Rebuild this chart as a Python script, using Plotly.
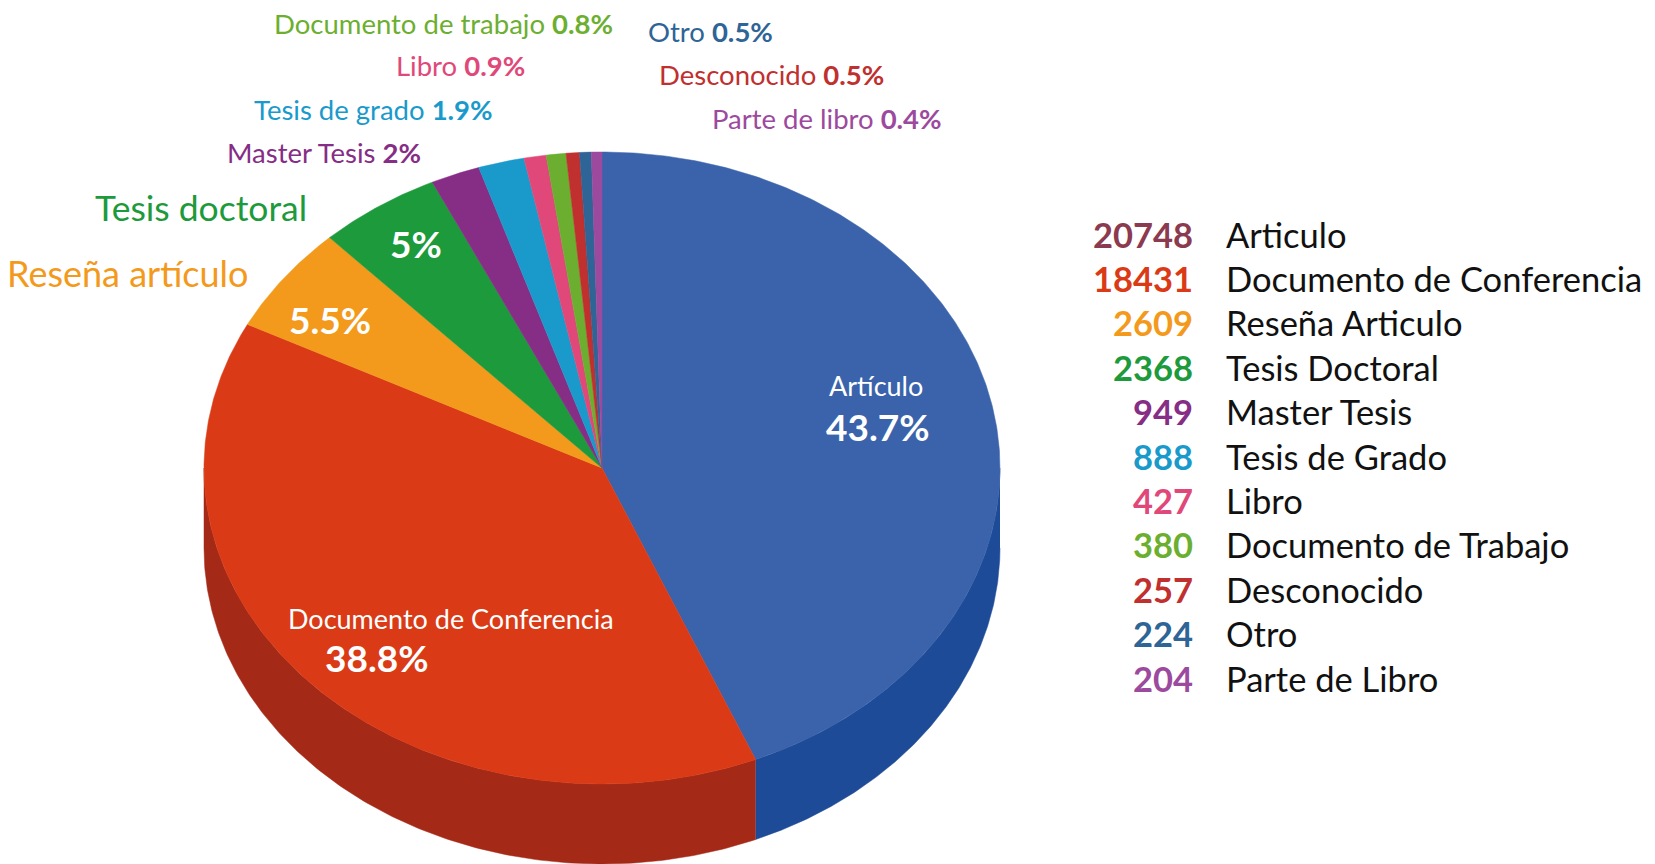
import numpy as np
import plotly.graph_objects as go

# ---------------- data ----------------
legend_names = ["Articulo", "Documento de Conferencia", "Reseña Articulo", "Tesis Doctoral",
                "Master Tesis", "Tesis de Grado", "Libro", "Documento de Trabajo",
                "Desconocido", "Otro", "Parte de Libro"]
slice_labels = ["Artículo", "Documento de Conferencia", "Reseña artículo", "Tesis doctoral",
                "Master Tesis", "Tesis de grado", "Libro", "Documento de trabajo",
                "Desconocido", "Otro", "Parte de libro"]
counts = [20748, 18431, 2609, 2368, 949, 888, 427, 380, 257, 224, 204]

# ---------------- styles ----------------
top_colors = ["#3B63AB", "#DA3A15", "#F39A1C", "#1D9A3B", "#862D85", "#1A9ACB",
              "#E0487A", "#6CAF30", "#C0302F", "#2E6496", "#9C4A9E"]
side_colors = ["#1E4B97", "#A52917", "#B8730F", "#14702A", "#621F61", "#127095",
               "#A83359", "#4F8222", "#8C2222", "#1F496E", "#733573"]
num_colors = ["#8B3A4F", "#DA3A15", "#F39A1C", "#1D9A3B", "#862D85", "#1A9ACB",
              "#E0487A", "#6CAF30", "#C0302F", "#2E6496", "#9C4A9E"]

FONT = "Lato"
W, H = 1655, 864
CX, CY, RX, RY, DEPTH = 602, 468, 398, 316, 80


def pt(theta):
    t = np.radians(theta)
    return CX + RX * np.sin(t), CY - RY * np.cos(t)


def fmt_pct(v):
    s = f"{v:.1f}"
    return s[:-2] if s.endswith(".0") else s


total = sum(counts)
pcts = [100 * c / total for c in counts]
cum = np.concatenate([[0], np.cumsum(counts)]) / total * 360.0

fig = go.Figure()

# sides (front half only: 90..270 deg)
for i in range(len(counts)):
    a, b = max(cum[i], 90), min(cum[i + 1], 270)
    if a < b:
        ts = np.linspace(a, b, 200)
        x, y = pt(ts)
        xs = np.concatenate([x, x[::-1]])
        ys = np.concatenate([y, (y + DEPTH)[::-1]])
        fig.add_trace(go.Scatter(x=xs, y=ys, mode="lines", fill="toself",
                                 fillcolor=side_colors[i],
                                 line=dict(color=side_colors[i], width=0.5),
                                 hoverinfo="skip", showlegend=False))

# top faces
for i in range(len(counts)):
    ts = np.linspace(cum[i], cum[i + 1], max(int((cum[i + 1] - cum[i]) * 2), 4))
    x, y = pt(ts)
    xs = np.concatenate([[CX], x, [CX]])
    ys = np.concatenate([[CY], y, [CY]])
    fig.add_trace(go.Scatter(x=xs, y=ys, mode="lines", fill="toself",
                             fillcolor=top_colors[i],
                             line=dict(color=top_colors[i], width=0.5),
                             hoverinfo="skip", showlegend=False))

ann = []

# outside labels: (index, x, y, anchor, size, show pct)
outside = [
    (7, 615, 23, "right", 27.5, True),
    (9, 646, 31, "left", 27.5, True),
    (6, 527, 65, "right", 27.5, True),
    (8, 657, 74, "left", 27.5, True),
    (5, 495, 109, "right", 27.5, True),
    (10, 710, 118, "left", 27.5, True),
    (4, 423, 152, "right", 27.5, True),
    (3, 309, 207, "right", 35.5, False),
    (2, 251, 273, "right", 36, False),
]
for i, x, y, anc, size, showp in outside:
    txt = slice_labels[i] + (f" <b>{fmt_pct(pcts[i])}%</b>" if showp else "")
    ann.append(dict(x=x, y=y, xref="x", yref="y", text=txt, showarrow=False,
                    xanchor=anc, yanchor="middle",
                    font=dict(family=FONT, size=size, color=top_colors[i])))

# inside labels
inside_names = [(0, 876, 385), (1, 451, 618)]
for i, x, y in inside_names:
    ann.append(dict(x=x, y=y, xref="x", yref="y", text=slice_labels[i], showarrow=False,
                    xanchor="center", yanchor="middle",
                    font=dict(family=FONT, size=27, color="white")))
inside_pcts = [(0, 878, 426), (1, 377, 657), (2, 330, 319), (3, 416, 243)]
for i, x, y in inside_pcts:
    ann.append(dict(x=x, y=y, xref="x", yref="y", text=f"<b>{fmt_pct(pcts[i])}%</b>",
                    showarrow=False, xanchor="center", yanchor="middle",
                    font=dict(family=FONT, size=37, color="white")))

# legend table
for k, (n, c) in enumerate(zip(legend_names, counts)):
    y = 234 + k * 44.4
    ann.append(dict(x=1195, y=y, xref="x", yref="y", text=f"<b>{c}</b>", showarrow=False,
                    xanchor="right", yanchor="middle",
                    font=dict(family=FONT, size=34.5, color=num_colors[k])))
    ann.append(dict(x=1224, y=y, xref="x", yref="y", text=n, showarrow=False,
                    xanchor="left", yanchor="middle",
                    font=dict(family=FONT, size=34.5, color="#111111")))

fig.update_layout(
    width=W, height=H, autosize=False,
    margin=dict(l=0, r=0, t=0, b=0),
    paper_bgcolor="white", plot_bgcolor="white",
    xaxis=dict(range=[0, W], visible=False, fixedrange=True),
    yaxis=dict(range=[H, 0], visible=False, fixedrange=True),
    annotations=ann,
    showlegend=False,
)

fig.write_html("out.html", config={"displayModeBar": False},
               post_script="document.body.style.margin='0';document.body.style.overflow='hidden';")
